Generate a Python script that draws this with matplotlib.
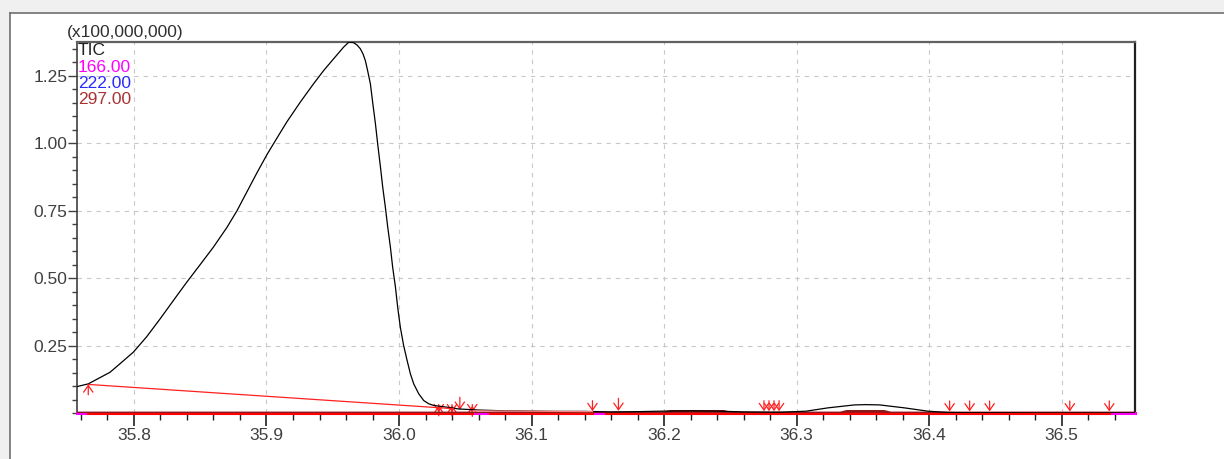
import matplotlib
matplotlib.use('Agg')
import matplotlib.pyplot as plt
from matplotlib.patches import Rectangle
from matplotlib.lines import Line2D
from matplotlib.ticker import MultipleLocator

# Tempo de retencao (min) e intensidade do TIC (unidades de 1e8)
tic_rt = [35.757, 35.7655, 35.7819, 35.7894, 35.7995, 35.8096, 35.8197, 35.8297,
          35.8398, 35.8499, 35.8599, 35.8701, 35.8776, 35.8852, 35.8927, 35.9003,
          35.9078, 35.9154, 35.9255, 35.9355, 35.9431, 35.9507, 35.9582, 35.962,
          35.9655, 35.9683, 35.9708, 35.9728, 35.9746, 35.9763, 35.9784, 35.9801,
          35.9822, 35.9839, 35.986, 35.9877, 35.9897, 35.9915, 35.9935, 35.9952,
          35.9973, 35.999, 36.001, 36.0035, 36.0061, 36.0086, 36.0111, 36.0149,
          36.0187, 36.0225, 36.0262, 36.0363, 36.045, 36.06, 36.08, 36.10, 36.12,
          36.14, 36.16, 36.18, 36.20, 36.22, 36.24, 36.26, 36.28, 36.2883, 36.3072,
          36.3236, 36.3437, 36.3526, 36.3626, 36.3815, 36.3992, 36.4143, 36.43,
          36.45, 36.48, 36.52, 36.5554]
tic_int = [0.098, 0.108, 0.151, 0.1825, 0.2255, 0.283, 0.349, 0.417,
           0.485, 0.550, 0.615, 0.688, 0.749, 0.820, 0.890, 0.958,
           1.019, 1.080, 1.153, 1.221, 1.270, 1.314, 1.357, 1.375,
           1.374, 1.365, 1.351, 1.332, 1.307, 1.270, 1.221, 1.153,
           1.073, 0.998, 0.912, 0.838, 0.763, 0.689, 0.615, 0.541,
           0.467, 0.392, 0.318, 0.250, 0.195, 0.145, 0.108, 0.071,
           0.046, 0.034, 0.028, 0.0215, 0.015, 0.011, 0.008, 0.007, 0.006,
           0.006, 0.004, 0.005, 0.007, 0.008, 0.007, 0.004, 0.003, 0.003, 0.0067,
           0.019, 0.030, 0.031, 0.030, 0.019, 0.0067, 0.002, 0.001,
           0.001, 0.0, 0.0, 0.0]

# Ion 297 (pequenos picos perto da linha de base)
ion297_rt = [35.757, 36.20, 36.205, 36.245, 36.25, 36.333, 36.338, 36.366, 36.371, 36.5554]
ion297_int = [0.0, 0.0, 0.006, 0.006, 0.0, 0.0, 0.006, 0.006, 0.0, 0.0]

# Linhas de base da integracao
base1_rt = [35.7655, 36.041]
base1_int = [0.106, 0.016]
base2_rt = [36.056, 36.146]
base2_int = [0.008, 0.005]
base_zero_rt = [[35.7655, 36.0553], [36.069, 36.146], [36.156, 36.536]]

# Marcadores de inicio/fim de pico
up_rt = [35.7655, 36.030, 36.040, 36.0553]
up_tip = [0.106, 0.028, 0.028, 0.026]
down_rt = [36.030, 36.040, 36.0459, 36.0553, 36.146, 36.1656, 36.2754, 36.2792,
           36.283, 36.2868, 36.4155, 36.4306, 36.4457, 36.5062, 36.536]
down_tip = [0.003, 0.003, 0.012, 0.003, 0.007, 0.008, 0.007, 0.007,
            0.007, 0.007, 0.006, 0.006, 0.006, 0.006, 0.006]

legend_labels = ['TIC', '166.00', '222.00', '297.00']
legend_colors = ['#202020', '#ff00ff', '#2a2aff', '#a83232']

x_ticks = [35.8, 35.9, 36.0, 36.1, 36.2, 36.3, 36.4, 36.5]
y_ticks = [0.25, 0.50, 0.75, 1.00, 1.25]

FONT = 'Liberation Sans'


def seta(ax, x, tip, comprimento):
    """Desenha uma seta vermelha com a ponta em (x, tip)"""
    ax.annotate('', xy=(x, tip), xytext=(0, comprimento), textcoords='offset points',
                arrowprops=dict(arrowstyle='->,head_length=0.4,head_width=0.28',
                                color='#ff2020', lw=0.9, shrinkA=0, shrinkB=0,
                                mutation_scale=12))


def plotar():
    fig = plt.figure(figsize=(12.24, 4.59), dpi=100, facecolor='#f0f0f0')

    # Painel branco com borda
    fig.add_artist(Rectangle((10 / 1224, 0), 1214 / 1224, 446 / 459,
                             transform=fig.transFigure, facecolor='white',
                             edgecolor='none', zorder=0))
    fig.add_artist(Line2D([10 / 1224, 1], [446 / 459, 446 / 459],
                          transform=fig.transFigure, color='#707070', lw=1.2))
    fig.add_artist(Line2D([10 / 1224, 10 / 1224], [0, 446 / 459],
                          transform=fig.transFigure, color='#707070', lw=1.2))

    ax = fig.add_axes([77 / 1224, 46 / 459, 1058 / 1224, 371 / 459])
    ax.set_facecolor('white')
    ax.set_xlim(35.757, 36.5554)
    ax.set_ylim(0, 1.376)

    # Tracos dos ions no zero
    ax.plot([35.757, 36.5554], [0, 0], color='#ff00ff', lw=2.2, clip_on=False, zorder=3)
    ax.plot([35.757, 36.5554], [0, 0], color='#2a2aff', lw=1.0, clip_on=False, zorder=2)
    for seg in base_zero_rt:
        ax.plot(seg, [0, 0], color='#ff0000', lw=2.2, clip_on=False, zorder=4)

    ax.plot(ion297_rt, ion297_int, color='#8b1a1a', lw=2.0, zorder=5)
    ax.plot(tic_rt, tic_int, color='black', lw=0.9, zorder=5)

    ax.plot(base1_rt, base1_int, color='#ff2020', lw=0.9, zorder=6)
    ax.plot(base2_rt, base2_int, color='#ff8080', lw=0.9, zorder=6)

    for x, t in zip(up_rt, up_tip):
        seta(ax, x, t, -7.5)
    for x, t in zip(down_rt, down_tip):
        comp = 5.5 if x < 36.06 else 7.5
        if x in (36.0459, 36.1656):
            comp = 9
        seta(ax, x, t, comp)

    # Eixos e grade
    ax.set_xticks(x_ticks)
    ax.set_xticklabels([f'{v:.1f}' for v in x_ticks])
    ax.xaxis.set_minor_locator(MultipleLocator(0.02))
    ax.set_yticks(y_ticks)
    ax.set_yticklabels([f'{v:.2f}' for v in y_ticks])
    ax.yaxis.set_minor_locator(MultipleLocator(0.05))
    ax.grid(True, which='major', color='#c8c8c8', lw=0.8, ls=(0, (4, 4.5)))

    ax.tick_params(axis='x', which='major', direction='out', length=9, width=1.2,
                   color='#202020', pad=2, labelsize=12.5, labelcolor='#404040')
    ax.tick_params(axis='x', which='minor', direction='out', length=5, width=1.0,
                   color='#202020')
    ax.tick_params(axis='y', which='major', direction='out', length=6.5, width=1.0,
                   color='#404040', pad=0.5, labelsize=12.5, labelcolor='#404040')
    ax.tick_params(axis='y', which='minor', direction='out', length=3.6, width=1.0,
                   color='#404040')
    for lab in ax.get_xticklabels() + ax.get_yticklabels():
        lab.set_fontfamily(FONT)

    ax.spines['top'].set_color('#606060')
    ax.spines['top'].set_linewidth(1.6)
    ax.spines['left'].set_color('#404040')
    ax.spines['left'].set_linewidth(1.2)
    ax.spines['right'].set_color('#202020')
    ax.spines['right'].set_linewidth(1.6)
    ax.spines['bottom'].set_color('#202020')

    # Legenda dos ions
    ys = [0.9766, 0.9307, 0.8887, 0.8437]
    for lab, cor, y in zip(legend_labels, legend_colors, ys):
        ax.text(0.001, y, lab, transform=ax.transAxes, color=cor, fontsize=12.5,
                fontfamily=FONT, ha='left', va='center', zorder=7)

    fig.text(66.7 / 1224, (459 - 33) / 459, '(x100,000,000)', fontsize=12.5,
             fontfamily=FONT, color='#303030', ha='left', va='center')

    fig.savefig('out.png', dpi=100, facecolor=fig.get_facecolor())


if __name__ == '__main__':
    plotar()
